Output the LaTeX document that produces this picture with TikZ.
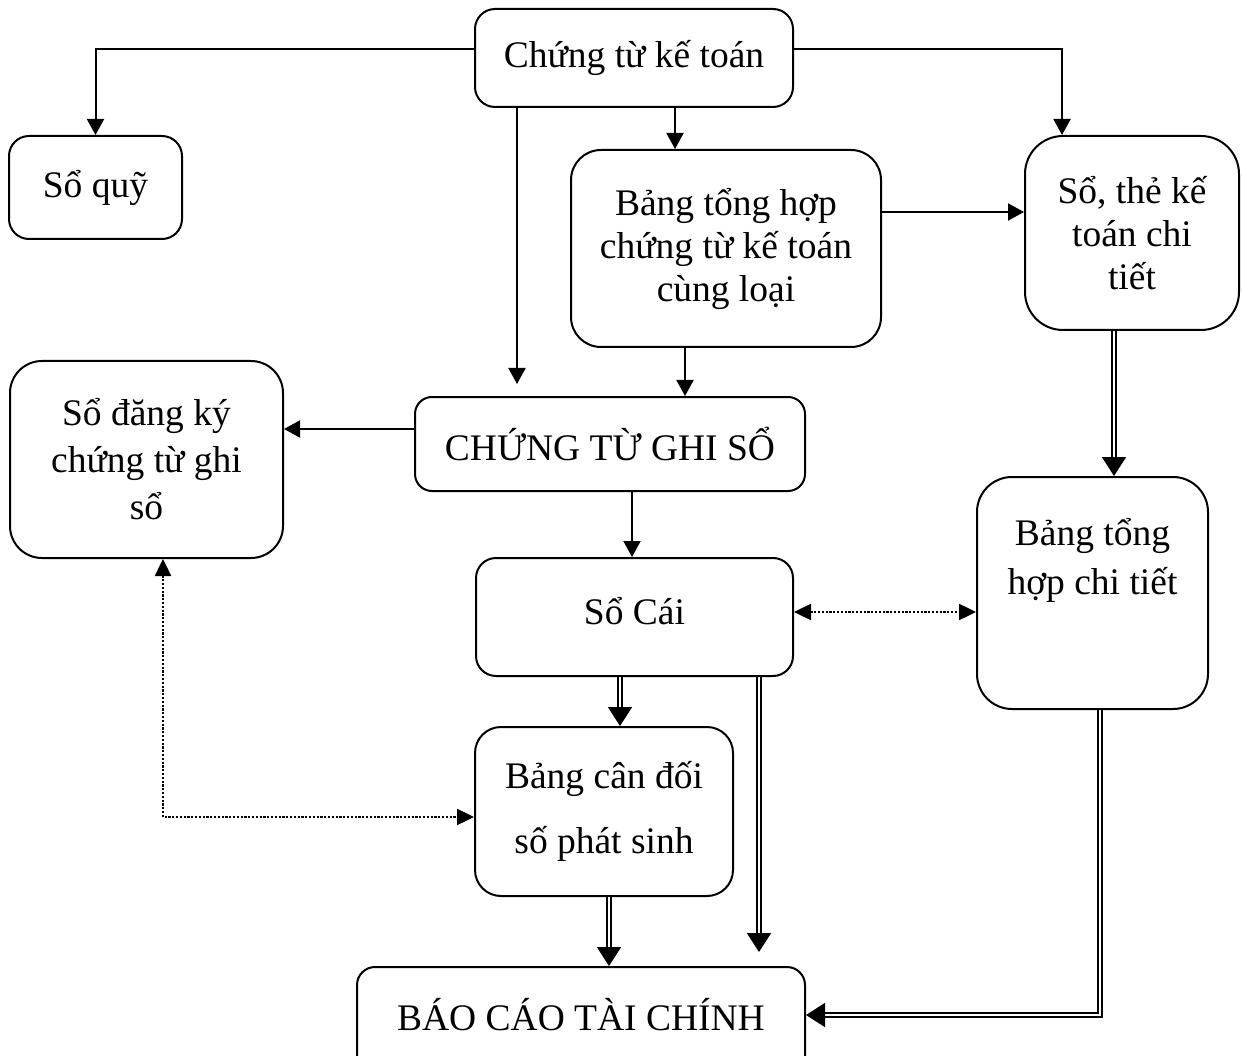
\documentclass[tikz,border=0pt]{standalone}
\usepackage{fontspec}
\setmainfont{Liberation Serif}
\usetikzlibrary{arrows.meta}
\begin{document}
\begin{tikzpicture}[x=1pt,y=-1pt,
  box/.style={draw, line width=2pt, rounded corners=#1, inner sep=0pt,
    align=center, font=\fontsize{37.5}{43}\selectfont},
  box/.default=20pt,
  txt/.style={inner sep=0pt, align=center},
  arr/.style={line width=2pt, -{Triangle[width=17pt,length=16pt]}},
  dblarr/.style={double, double distance=2.6pt, line width=1.7pt,
    -{Triangle[width=24pt,length=19pt]}},
  dotarr/.style={line width=2.4pt, dash pattern=on 2.2pt off 1.6pt,
    {Triangle[width=16pt,length=17pt]}-{Triangle[width=16pt,length=17pt]}}
]
\useasboundingbox (0,0) rectangle (1242,1056);

% boxes
\node[box, minimum width=318pt, minimum height=98pt] (top) at (634,58) {Chứng từ kế toán};
\node[box, minimum width=173pt, minimum height=103pt] (quy) at (95.5,187.5) {Sổ quỹ};
\node[box=30pt, minimum width=310pt, minimum height=197pt] (bth) at (726,248.5)
  {Bảng tổng hợp\\chứng từ kế toán\\cùng loại};
\node[box=38pt, minimum width=214pt, minimum height=194pt] (sothe) at (1132,233)
  {Sổ, thẻ kế\\toán chi\\tiết};
\node[box=32pt, minimum width=273pt, minimum height=197pt,
  font=\fontsize{37.5}{47}\selectfont] (dk) at (146.5,459.5)
  {Sổ đăng ký\\chứng từ ghi\\sổ};
\node[box=17pt, minimum width=390pt, minimum height=94pt] (ctgs) at (610,444) {CHỨNG TỪ GHI SỔ};
\node[box, minimum width=317pt, minimum height=118pt, text height=24pt, text depth=10pt]
  (socai) at (634.5,617) {Sổ Cái};
\node[box=35pt, minimum width=231pt, minimum height=232pt] (bthct) at (1092.5,593) {};
\node[txt, font=\fontsize{37.5}{49}\selectfont] (bthcttext) at (1092.5,560)
  {Bảng tổng\\hợp chi tiết};
\node[box=26pt, minimum width=258pt, minimum height=169pt,
  font=\fontsize{37.5}{65}\selectfont] (bcd) at (604,811.5)
  {Bảng cân đối\\số phát sinh};
\node[box=18pt, minimum width=448pt, minimum height=108pt, text height=25pt, text depth=7pt]
  (bctc) at (581,1021) {BÁO CÁO TÀI CHÍNH};

% plain arrows
\draw[arr] ([yshift=9pt]top.west) -| (quy.north);
\draw[arr] ([yshift=9pt]top.east) -| ([xshift=-70pt]sothe.north);
\draw[arr, shorten >=12pt] ([xshift=-117pt]top.south) -- ([xshift=-117pt]top.south |- ctgs.north);
\draw[arr] ([xshift=41pt]top.south) -- ([xshift=41pt]top.south |- bth.north);
\draw[arr] ([yshift=36.5pt]bth.east) -- ([yshift=36.5pt]bth.east -| sothe.west);
\draw[arr] ([xshift=-41pt]bth.south) -- ([xshift=-41pt]bth.south |- ctgs.north);
\draw[arr] ([yshift=15pt]ctgs.west) -- ([yshift=15pt]ctgs.west -| dk.east);
\draw[arr] ([xshift=22pt]ctgs.south) -- ([xshift=22pt]ctgs.south |- socai.north);

% double arrows
\draw[dblarr] ([xshift=-18pt]sothe.south) -- ([xshift=-18pt]sothe.south |- bthct.north);
\draw[dblarr] ([xshift=-14.5pt]socai.south) -- ([xshift=-14.5pt]socai.south |- bcd.north);
\draw[dblarr, shorten >=14pt] ([xshift=124.5pt]socai.south) -- ([xshift=124.5pt]socai.south |- bctc.north);
\draw[dblarr] ([xshift=5pt]bcd.south) -- ([xshift=5pt]bcd.south |- bctc.north);
\draw[dblarr] ([xshift=7.5pt]bthct.south) |- ([yshift=6pt]bctc.east);

% dotted two-way arrows
\draw[dotarr] ([yshift=5pt]socai.east) -- ([yshift=5pt]socai.east -| bthct.west);
\draw[dotarr] ([xshift=16.5pt]dk.south) |- ([yshift=-5.5pt]bcd.west);
\end{tikzpicture}
\end{document}
